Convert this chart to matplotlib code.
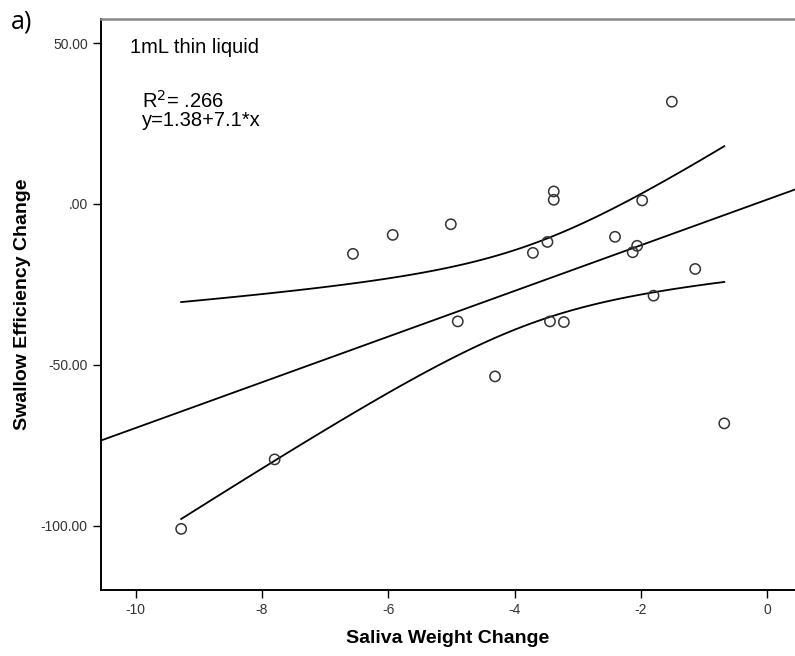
import numpy as np
import matplotlib
matplotlib.use("Agg")
import matplotlib.pyplot as plt

plt.rcParams['font.family'] = ['Liberation Sans', 'DejaVu Sans']
plt.rcParams['axes.unicode_minus'] = False

# saliva weight change vs swallow efficiency change (1mL thin liquid)
saliva_change = [-1.51, -3.38, -3.38, -5.01, -1.98, -3.48, -3.71, -2.41, -2.06, -2.13,
                 -1.14, -1.80, -4.90, -3.44, -3.22, -6.56, -5.93, -4.31, -0.68, -7.80, -9.28]
swallow_change = [31.8, 3.9, 1.3, -6.3, 1.1, -11.8, -15.2, -10.2, -13.0, -15.0,
                  -20.2, -28.5, -36.5, -36.5, -36.7, -15.5, -9.6, -53.6, -68.2, -79.4, -101.0]

intercept = 1.38
slope = 7.1
r2_text = "R$^2$= .266"
eq_text = "y=1.38+7.1*x"
panel_title = "1mL thin liquid"

x = np.array(saliva_change)
y = np.array(swallow_change)
n = len(x)

fig = plt.figure(figsize=(7.95, 6.56), dpi=100)
ax = fig.add_axes([0.127, 0.1006, 0.873, 0.8704])

xlim = (-10.55, 0.44)
ylim = (-120, 57.5)

# fit line across the whole x range
xx = np.linspace(xlim[0], xlim[1], 50)
ax.plot(xx, intercept + slope * xx, color='black', lw=1.3)

# 95% confidence band of the mean, only over the data range
b, a = np.polyfit(x, y, 1)
resid = y - (a + b * x)
s = np.sqrt(np.sum(resid**2) / (n - 2))
sxx = np.sum((x - x.mean())**2)
tval = 2.093  # t(0.975, 19)
xc = np.linspace(x.min(), x.max(), 100)
yc = a + b * xc
half = tval * s * np.sqrt(1.0 / n + (xc - x.mean())**2 / sxx)
ax.plot(xc, yc + half, color='black', lw=1.3)
ax.plot(xc, yc - half, color='black', lw=1.3)

ax.scatter(x, y, s=55, facecolors='none', edgecolors='#333333', linewidths=1.1, zorder=3)

ax.set_xlim(xlim)
ax.set_ylim(ylim)
ax.set_xticks([-10, -8, -6, -4, -2, 0])
ax.set_yticks([-100, -50, 0, 50])
ax.set_yticklabels(["-100.00", "-50.00", ".00", "50.00"])
ax.tick_params(direction='out', length=6, width=1, labelsize=10, colors='black', labelcolor='#333333')

ax.spines['right'].set_visible(False)
ax.spines['top'].set_color('#888888')
ax.spines['top'].set_linewidth(1.8)
ax.spines['left'].set_linewidth(1.4)
ax.spines['bottom'].set_linewidth(1.4)

ax.set_xlabel("Saliva Weight Change", fontsize=14, fontweight='bold', labelpad=9)
ax.set_ylabel("Swallow Efficiency Change", fontsize=14, fontweight='bold', labelpad=7)

ax.text(-10.09, 48.5, panel_title, fontsize=14.5, va='center')
ax.text(-9.90, 32.2, r2_text, fontsize=14.5, va='center')
ax.text(-9.90, 26.0, eq_text, fontsize=14.5, va='center')

fig.text(0.014, 0.966, "a)", fontsize=18, va='center', family=['Open Sans', 'DejaVu Sans'])

fig.savefig("out.png", dpi=100)
